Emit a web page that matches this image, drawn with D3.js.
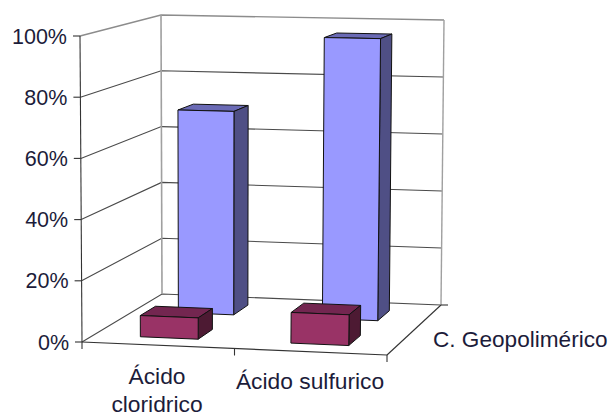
<!DOCTYPE html>
<html>
<head>
<meta charset="utf-8">
<script src="https://cdn.jsdelivr.net/npm/d3@7"></script>
<style>
html,body{margin:0;padding:0;background:#fff}
svg{display:block}
text{font-family:"Liberation Sans",Arial,sans-serif;fill:#1c1c3a}
</style>
</head>
<body>
<svg id="chart" width="609" height="417"></svg>
<script>
// Chart data
const categories = ["Ácido cloridrico", "Ácido sulfurico"];
const seriesNames = ["Frente", "C. Geopolimérico"];
const frontValues = [7, 10];
const rearValues = [70, 96];
const valueTicks = [0, 20, 40, 60, 80, 100];

const svg = d3.select("#chart");

// Corners of the 3D box: floor and ceiling, front and back
const box = {
  floor: { fl: [82, 342], fr: [387, 355], bl: [162, 294], br: [441, 305] },
  top:   { fl: [80, 36],  fr: [392, 42],  bl: [161, 15],  br: [444, 20] }
};

const uScale = d3.scaleBand().domain(categories).range([0, 1]).paddingInner(0.616).paddingOuter(0.308);
const dScale = d3.scaleBand().domain(seriesNames).range([0, 1]).paddingInner(0.6).paddingOuter(0.3);
const wScale = d3.scaleLinear().domain([0, 100]).range([0, 1]);

// Maps box coordinates (across, depth, height) to the page
function project(u, d, w) {
  const plane = (c) => {
    const front = d3.interpolateArray(c.fl, c.fr)(u);
    const back = d3.interpolateArray(c.bl, c.br)(u);
    return d3.interpolateArray(front, back)(d);
  };
  return d3.interpolateArray(plane(box.floor), plane(box.top))(w);
}
const at = (u, d, value) => project(u, d, wScale(value));
const line = d3.line();

const grid = svg.append("g").attr("fill", "none");
// Side and back wall gridlines
valueTicks.forEach(t => {
  grid.append("path").attr("d", line([at(0, 0, t), at(0, 1, t), at(1, 1, t)]))
    .attr("stroke", t === 100 ? "#8c8c8c" : "#4a4a4a").attr("stroke-width", t === 100 ? 1.4 : 1.1);
});
// Back corners of the walls
grid.append("path").attr("d", line([at(0, 1, 0), at(0, 1, 100)])).attr("stroke", "#a0a0a0").attr("stroke-width", 1.6);
grid.append("path").attr("d", line([at(1, 1, 0), at(1, 1, 100)])).attr("stroke", "#a0a0a0").attr("stroke-width", 1.4);

// Axis edges
const axes = svg.append("g").attr("fill", "none").attr("stroke", "#333").attr("stroke-width", 1.1);
axes.append("path").attr("d", line([at(0, 0, 0), at(0, 0, 100)]));
axes.append("path").attr("d", line([at(0, 0, 0), at(1, 0, 0)]));
axes.append("path").attr("d", line([at(1, 0, 0), at(1, 1, 0)]));

// Tick marks on the value, category and depth axes
valueTicks.forEach(t => {
  const p = at(0, 0, t);
  axes.append("path").attr("d", line([[p[0] - 7, p[1]], p]));
});
[0, 0.5, 1].forEach(u => {
  const p = at(u, 0, 0);
  axes.append("path").attr("d", line([p, [p[0], p[1] + 7]]));
});
const depthEnd = at(1, 1, 0);
axes.append("path").attr("d", line([depthEnd, [depthEnd[0] + 7, depthEnd[1]]]));

// One cuboid: top, side, then front face
function bar(category, series, value, colors) {
  const u0 = uScale(category), u1 = u0 + uScale.bandwidth();
  const d0 = dScale(series), d1 = d0 + dScale.bandwidth();
  const poly = pts => line(pts) + "Z";
  const g = svg.append("g").attr("stroke", "#111").attr("stroke-width", 1).attr("stroke-linejoin", "round");
  g.append("path").attr("fill", colors.top)
    .attr("d", poly([at(u0, d0, value), at(u1, d0, value), at(u1, d1, value), at(u0, d1, value)]));
  g.append("path").attr("fill", colors.side)
    .attr("d", poly([at(u1, d0, 0), at(u1, d1, 0), at(u1, d1, value), at(u1, d0, value)]));
  g.append("path").attr("fill", colors.front)
    .attr("d", poly([at(u0, d0, 0), at(u1, d0, 0), at(u1, d0, value), at(u0, d0, value)]));
}

const rearColors = { front: "#9999ff", side: "#4f4f85", top: "#6a6ab5" };
const frontColors = { front: "#993366", side: "#4d1a33", top: "#732650" };
categories.forEach((c, i) => bar(c, seriesNames[1], rearValues[i], rearColors));
categories.forEach((c, i) => bar(c, seriesNames[0], frontValues[i], frontColors));

// Value axis labels
const labels = svg.append("g").attr("font-size", 21.5);
valueTicks.forEach(t => {
  const p = at(0, 0, t);
  labels.append("text").attr("x", p[0] - 13).attr("y", p[1] + 7.5).attr("text-anchor", "end").text(t + "%");
});

// Category and depth labels
const catLabels = svg.append("g").attr("font-size", 22.8).attr("text-anchor", "middle");
catLabels.append("text").attr("x", 157).attr("y", 384).text("Ácido");
catLabels.append("text").attr("x", 157).attr("y", 411.5).text("cloridrico");
catLabels.append("text").attr("x", 310).attr("y", 389).text(categories[1]);
svg.append("text").attr("x", 433).attr("y", 347).attr("font-size", 22.6).text(seriesNames[1]);
</script>
</body>
</html>
